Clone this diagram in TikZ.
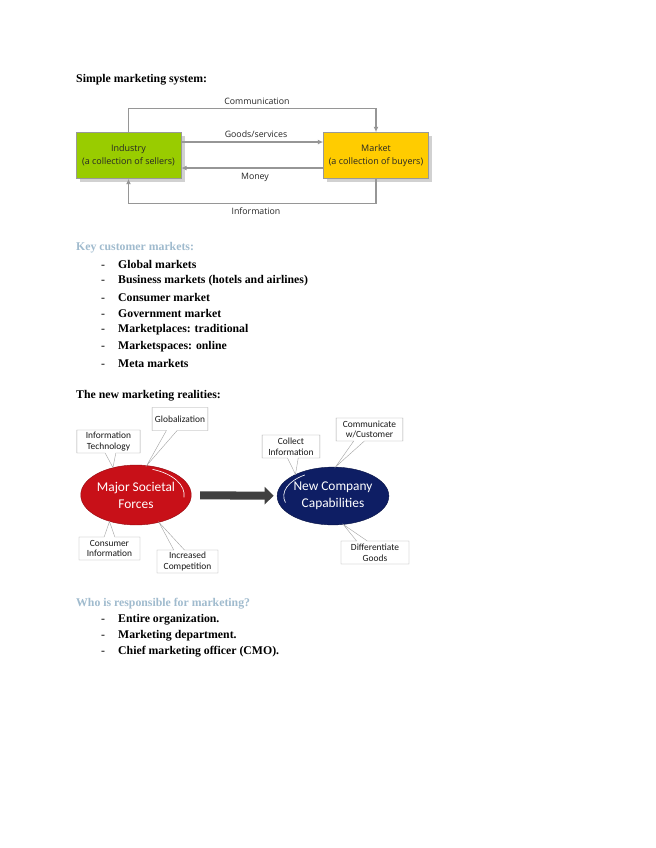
\documentclass[tikz,border=0pt]{standalone}
\usepackage{fontspec}
\setmainfont{Liberation Serif}
\newfontfamily\diagfont{Open Sans}
\newfontfamily\calfont{Carlito}
\usetikzlibrary{arrows.meta,shapes.geometric,shapes.callouts,calc,shadows}
\definecolor{headblue}{RGB}{160,187,206}
\definecolor{indgreen}{RGB}{153,204,0}
\definecolor{mktyellow}{RGB}{255,204,0}
\definecolor{flowgray}{RGB}{150,150,150}
\definecolor{socred}{RGB}{200,16,24}
\definecolor{capnavy}{RGB}{14,30,100}
\definecolor{arrowgray}{RGB}{64,64,64}
\begin{document}
\begin{tikzpicture}[x=0.934pt,y=-0.934pt,
  body/.style={font=\fontsize{11}{13}\selectfont\bfseries, anchor=west, inner sep=0pt},
  title/.style={body},
  heading/.style={body, text=headblue},
  dashmark/.style={font=\fontsize{11}{13}\selectfont, anchor=base west, inner sep=0pt},
  sysbox/.style={draw=black!40, minimum width=98pt, minimum height=43pt, inner sep=0pt,
    align=center, font=\diagfont\fontsize{8.4}{12}\selectfont, text=black!85,
    drop shadow={shadow xshift=3.5pt, shadow yshift=-3.5pt, fill=black!18, opacity=1}},
  flow/.style={draw=flowgray, line width=1.2pt, -{Latex[length=5pt,width=4.5pt]}},
  flowlabel/.style={font=\diagfont\fontsize{8.2}{10}\selectfont, text=black!85, inner sep=0pt},
  bubble/.style={ellipse, inner sep=0pt, align=center, text=white,
    font=\calfont\fontsize{12.5}{16}\selectfont},
  hl/.style={draw=white, line width=0.6pt},
  bigarrow/.style={draw=arrowgray, line width=7.5pt, -{Triangle[width=16pt,length=8.5pt]}},
  callbox/.style={rectangle callout, draw=black!35, fill=white, inner sep=1pt,
    minimum height=21.5pt, align=center, callout pointer width=10pt,
    font=\calfont\fontsize{8.8}{10}\selectfont, text=black!90}
]
\useasboundingbox (0,0) rectangle (655,848);
\fill[white] (0,0) rectangle (655,848);

% ---- Simple marketing system
\node[title] (t1) at (76,80) {Simple marketing system:};
\node[sysbox, fill=indgreen] (ind) at (128.5,155.5) {Industry\\(a collection of sellers)};
\node[sysbox, fill=mktyellow] (mkt) at (376,155.5) {Market\\(a collection of buyers)};
\draw[flow] (ind.north) -- ++(0,-23.5) -| (mkt.north);
\draw[flow] ([yshift=12.6pt]ind.east) -- ([yshift=12.6pt]mkt.west);
\draw[flow] ([yshift=-11.7pt]mkt.west) -- ([yshift=-11.7pt]ind.east);
\draw[flow] (mkt.south) -- ++(0,25) -| (ind.south);
\node[flowlabel] (lc) at (257,101) {Communication};
\node[flowlabel] (lg) at (256,134) {Goods/services};
\node[flowlabel] (lm) at (255,177) {Money};
\node[flowlabel] (li) at (256,211) {Information};

% ---- Key customer markets
\node[heading] (h2) at (76,248) {Key customer markets:};
\foreach \t [count=\i] in {Global markets, Business markets (hotels and airlines),
  Consumer market, Government market, Marketplaces: traditional,
  Marketspaces: online, Meta markets} {
  \node[body] (ki\i) at (118,247.5+16.5*\i) {\t};
  \node[dashmark] (kd\i) at (101,0 |- ki\i.base) {-};
}

% ---- The new marketing realities
\node[title] (t3) at (76,396) {The new marketing realities:};
\node[bubble, fill=socred, draw=socred!75!black, minimum width=97pt, minimum height=56pt]
  (soc) at (136,495) {Major Societal\\Forces};
\node[bubble, fill=capnavy, draw=capnavy!70!black, minimum width=99pt, minimum height=54pt]
  (cap) at (333,496) {New Company\\Capabilities};
\draw[hl] (soc.center) ++(70:45pt and 25.5pt) arc[start angle=70, end angle=-5, x radius=45pt, y radius=25.5pt];
\draw[hl] (cap.center) ++(125:46pt and 24pt) arc[start angle=125, end angle=195, x radius=46pt, y radius=24pt];
\draw[bigarrow, shorten <=8pt, shorten >=3pt] (soc) -- (cap);

\node[callbox, minimum width=52pt, callout absolute pointer={(soc.70)}] (glob) at (180,419) {Globalization};
\node[callbox, minimum width=59pt, callout absolute pointer={(soc.130)}] (itech) at (108.5,441.5) {Information\\Technology};
\node[callbox, minimum width=57pt, callout absolute pointer={(soc.225)}] (cinfo) at (109.5,548.5) {Consumer\\Information};
\node[callbox, minimum width=57pt, callout absolute pointer={(soc.310)}] (icomp) at (187.5,561.5) {Increased\\Competition};
\node[callbox, minimum width=54pt, callout absolute pointer={(cap.150)}] (coll) at (291,446.5) {Collect\\Information};
\node[callbox, minimum width=62.5pt, callout absolute pointer={(cap.85)}] (comm) at (369.5,429.5) {Communicate\\w/Customer};
\node[callbox, minimum width=63.5pt, callout absolute pointer={(cap.290)}] (diff) at (375,552.5) {Differentiate\\Goods};

% ---- Who is responsible
\node[heading] (h4) at (76,604) {Who is responsible for marketing?};
\foreach \t [count=\i] in {Entire organization., Marketing department., Chief marketing officer (CMO).} {
  \node[body] (wi\i) at (118,604+16*\i) {\t};
  \node[dashmark] (wd\i) at (101,0 |- wi\i.base) {-};
}
\end{tikzpicture}
\end{document}
